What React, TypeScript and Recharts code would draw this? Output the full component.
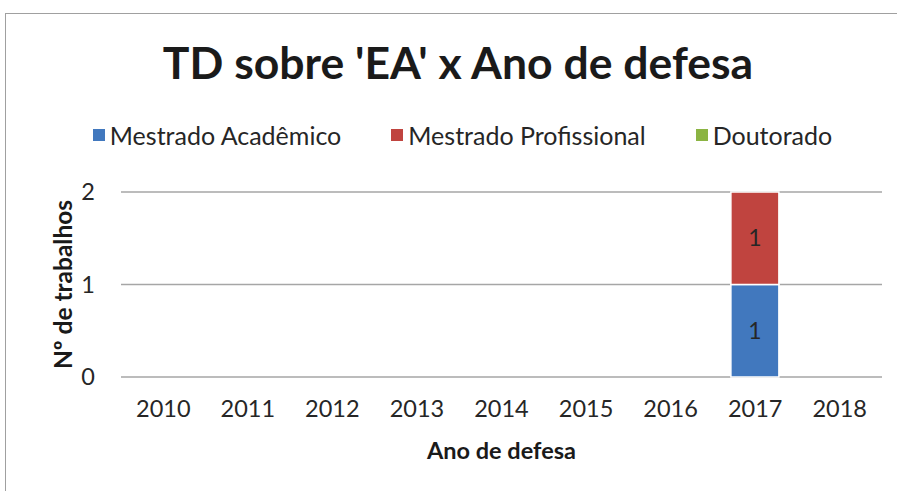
import { BarChart, Bar, XAxis, YAxis, CartesianGrid, Legend, LabelList } from 'recharts'

const years = ['2010', '2011', '2012', '2013', '2014', '2015', '2016', '2017', '2018']
const mestradoAcademico = [0, 0, 0, 0, 0, 0, 0, 1, 0]
const mestradoProfissional = [0, 0, 0, 0, 0, 0, 0, 1, 0]
const doutorado = [0, 0, 0, 0, 0, 0, 0, 0, 0]
const yTicks = [0, 1, 2]

const series = [
  { key: 'ma', name: 'Mestrado Acadêmico', color: '#4178be' },
  { key: 'mp', name: 'Mestrado Profissional', color: '#c0443f' },
  { key: 'dr', name: 'Doutorado', color: '#8bb443' },
]

const data = years.map((year, i) => ({
  year,
  ma: mestradoAcademico[i],
  mp: mestradoProfissional[i],
  dr: doutorado[i],
}))

const font = 'Lato, "Open Sans", sans-serif'

const renderLegend = () => (
  <div
    style={{
      display: 'flex',
      justifyContent: 'center',
      gap: 50,
      fontFamily: font,
      fontSize: 25,
      color: '#262626',
    }}
  >
    {series.map((s) => (
      <div key={s.key} style={{ display: 'flex', alignItems: 'center' }}>
        <span style={{ width: 12, height: 12, background: s.color, marginRight: 5, display: 'inline-block' }} />
        {s.name}
      </div>
    ))}
  </div>
)

const valueLabel = (props: any) => {
  const { x, y, width, height, value } = props
  if (!value) return null
  return (
    <text
      x={x + width / 2}
      y={y + height / 2}
      dy={8}
      textAnchor="middle"
      fontFamily={font}
      fontSize={23}
      fill="#262626"
    >
      {value}
    </text>
  )
}

export default function App() {
  return (
    <div style={{ position: 'absolute', top: 0, left: 0, width: 897, height: 491, background: '#fff', overflow: 'hidden' }}>
      <div
        style={{
          position: 'absolute',
          top: 35,
          left: 0,
          width: 916,
          textAlign: 'center',
          fontFamily: font,
          fontWeight: 700,
          fontSize: 44.5,
          color: '#1a1a1a',
        }}
      >
        TD sobre 'EA' x Ano de defesa
      </div>
      <div style={{ position: 'absolute', top: 0, left: 0 }}>
        <BarChart width={897} height={491} data={data} margin={{ top: 162, right: 15, bottom: 84, left: 81 }}>
          <CartesianGrid vertical={false} stroke="#a6a6a6" strokeWidth={1.5} />
          <XAxis
            dataKey="year"
            axisLine={false}
            tickLine={false}
            height={30}
            tick={{ fontFamily: font, fontSize: 23.5, fill: '#262626' }}
            tickMargin={17}
            label={{
              value: 'Ano de defesa',
              position: 'insideBottom',
              offset: -52,
              style: { fontFamily: font, fontSize: 23.5, fontWeight: 700, fill: '#1a1a1a' },
            }}
          />
          <YAxis
            width={40}
            domain={[0, 2]}
            ticks={yTicks}
            axisLine={false}
            tickLine={false}
            tick={{ fontFamily: font, fontSize: 23.5, fill: '#262626' }}
            tickMargin={20}
            label={{
              value: 'Nº de trabalhos',
              angle: -90,
              position: 'insideLeft',
              offset: -18,
              style: { textAnchor: 'middle', fontFamily: font, fontSize: 24.5, fontWeight: 700, fill: '#1a1a1a' },
            }}
          />
          <Legend
            verticalAlign="top"
            content={renderLegend}
            wrapperStyle={{ position: 'absolute', top: 120, left: 14, width: 897 }}
          />
          {series.map((s) => (
            <Bar
              key={s.key}
              dataKey={s.key}
              name={s.name}
              stackId="a"
              fill={s.color}
              stroke="#ffffff"
              strokeWidth={1.5}
              barSize={48}
              isAnimationActive={false}
            >
              <LabelList dataKey={s.key} content={valueLabel} />
            </Bar>
          ))}
        </BarChart>
      </div>
      <div
        style={{
          position: 'absolute',
          left: 5,
          top: 13,
          width: 1000,
          height: 600,
          borderTop: '1.5px solid #a0a0a0',
          borderLeft: '1.5px solid #a0a0a0',
          pointerEvents: 'none',
        }}
      />
    </div>
  )
}
